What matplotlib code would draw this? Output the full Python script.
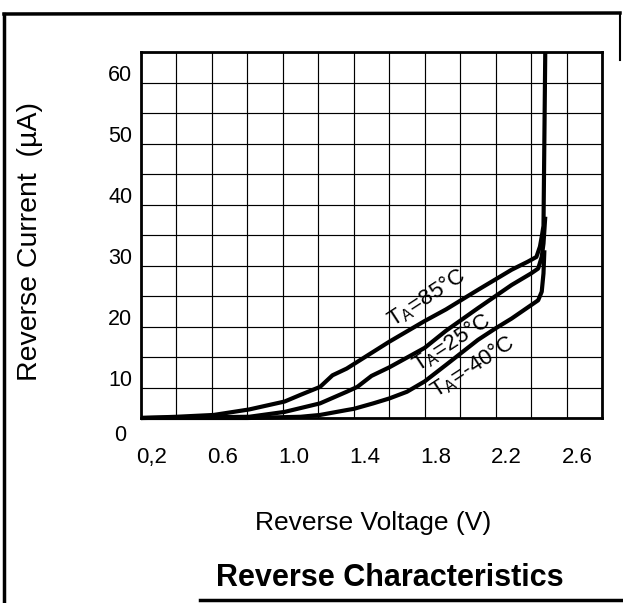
import matplotlib
matplotlib.use("Agg")
import matplotlib.pyplot as plt
import matplotlib.transforms as mtransforms
from matplotlib.lines import Line2D
import numpy as np

plt.rcParams['font.family'] = ['Liberation Sans', 'DejaVu Sans']
plt.rcParams['mathtext.fontset'] = 'custom'
plt.rcParams['mathtext.rm'] = 'Liberation Sans'
plt.rcParams['mathtext.it'] = 'Liberation Sans'

# ---- data ----
v_85 = [0.20, 0.40, 0.61, 0.81, 1.01, 1.10, 1.21, 1.28, 1.36, 1.48, 1.60, 1.80, 1.92,
        2.10, 2.29, 2.38, 2.43, 2.45, 2.46, 2.47, 2.48]
i_85 = [0.0, 0.2, 0.5, 1.4, 2.7, 3.8, 5.1, 7.0, 8.1, 10.3, 12.5, 15.9, 17.8,
        21.0, 24.3, 25.6, 26.4, 28.1, 29.7, 31.5, 60.0]

v_25 = [0.20, 0.50, 0.81, 1.01, 1.21, 1.36, 1.42, 1.50, 1.60, 1.80, 1.92, 2.10,
        2.29, 2.40, 2.44, 2.46, 2.47, 2.48]
i_25 = [0.0, 0.1, 0.2, 1.0, 2.4, 4.3, 5.1, 6.9, 8.3, 11.5, 14.3, 18.0,
        21.8, 23.7, 24.5, 26.4, 28.6, 33.0]

v_m40 = [0.20, 0.80, 1.10, 1.21, 1.36, 1.40, 1.51, 1.60, 1.70, 1.80, 1.92, 2.10,
         2.20, 2.29, 2.40, 2.44, 2.46, 2.47, 2.475]
i_m40 = [0.0, 0.0, 0.2, 0.5, 1.3, 1.5, 2.4, 3.2, 4.3, 6.0, 8.7, 12.8,
         14.7, 16.3, 18.5, 19.3, 20.7, 23.7, 27.5]

curve_labels = [r'T$_{\mathrm{A}}$=85°C', r'T$_{\mathrm{A}}$=25°C', r'T$_{\mathrm{A}}$=-40°C']
label_v = [1.81, 1.95, 2.07]
label_i = [19.8, 12.4, 8.5]

x_ticks = [0.2, 0.6, 1.0, 1.4, 1.8, 2.2, 2.6]
x_tick_labels = ['0,2', '0.6', '1.0', '1.4', '1.8', '2.2', '2.6']
y_ticks = [0, 10, 20, 30, 40, 50, 60]
y_tick_labels = ['0', '10', '20', '30', '40', '50', '60']

# ---- figure ----
W, H = 623, 603
fig = plt.figure(figsize=(W / 100, H / 100), dpi=100)
ax = fig.add_axes([141 / W, 1 - 418 / H, 461 / W, 366 / H])

ax.set_xlim(0.2, 2.8)
ax.set_ylim(0, 60)

ax.set_xticks(np.arange(0.2, 2.81, 0.2), minor=True)
ax.set_yticks(np.arange(0, 61, 5), minor=True)
ax.set_xticks(x_ticks)
ax.set_xticklabels(x_tick_labels, fontsize=16)
ax.set_yticks(y_ticks)
ax.set_yticklabels(y_tick_labels, fontsize=15.5)
ax.tick_params(which='both', length=0)
ax.tick_params(axis='x', pad=28)
ax.tick_params(axis='y', pad=15)
ax.grid(which='both', color='black', lw=0.85)
ax.set_axisbelow(True)
for s in ax.spines.values():
    s.set_linewidth(2.0)

def off(dx, dy):
    return mtransforms.ScaledTranslation(dx / 100, dy / 100, fig.dpi_scale_trans)

for lbl in ax.get_xticklabels():
    lbl.set_va('center')
    lbl.set_transform(lbl.get_transform() + off(11, -1))
for lbl in ax.get_yticklabels():
    lbl.set_ha('center')
    dy = -15 if lbl.get_text() == '0' else -21
    lbl.set_transform(lbl.get_transform() + off(0, dy))

for vv, ii in [(v_85, i_85), (v_25, i_25), (v_m40, i_m40)]:
    ax.plot(vv, ii, color='black', lw=3.0, solid_joinstyle='round',
            solid_capstyle='butt', clip_on=False)

for txt, lv, li in zip(curve_labels, label_v, label_i):
    ax.text(lv, li, txt, fontsize=16, rotation=33, ha='center', va='center',
            color='black', rotation_mode='anchor')

fig.text(30 / W, 1 - 242 / H, 'Reverse Current  (µA)', rotation=90,
         ha='center', va='center', fontsize=20.5)
fig.text(373 / W, 1 - 523 / H, 'Reverse Voltage (V)', ha='center',
         va='center', fontsize=19)
fig.text(390 / W, 1 - 578 / H, 'Reverse Characteristics', ha='center',
         va='center', fontsize=22, fontweight='bold')

# outer frame
def fl(x0, y0, x1, y1, lw=2.5):
    fig.add_artist(Line2D([x0 / W, x1 / W], [1 - y0 / H, 1 - y1 / H],
                          transform=fig.transFigure, color='black', lw=lw))
fl(4, 14, 4, 603)
fl(4, 14, 620, 13)
fl(620, 13, 620, 60, lw=1.5)
fl(200, 600, 623, 600)

fig.savefig('out.png', dpi=100)
